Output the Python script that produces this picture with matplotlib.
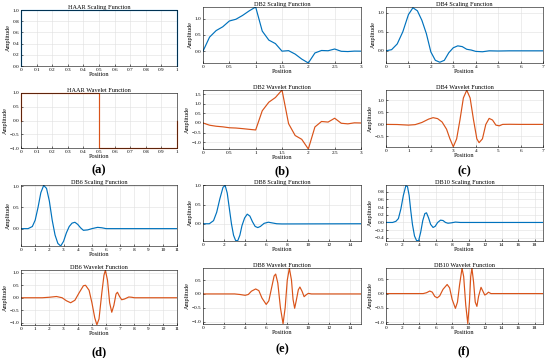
import matplotlib
matplotlib.use("Agg")
import matplotlib.pyplot as plt

plt.rcParams['font.family'] = ['Liberation Serif', 'DejaVu Serif']

blue = '#0072BD'
orange = '#D95319'

# ---- data ----
haar_phi_x = [0, 0, 1, 1]
haar_phi_y = [0, 1, 1, 0]
haar_psi_x = [0, 0, 0.5, 0.5, 1, 1]
haar_psi_y = [0, 1, 1, -1, -1, 0]

db2_phi_x = [0, 0.125, 0.25, 0.375, 0.5, 0.625, 0.75, 0.875, 1.0, 1.125, 1.25, 1.375, 1.5,
             1.625, 1.75, 1.875, 2.0, 2.125, 2.25, 2.375, 2.5, 2.625, 2.75, 2.875, 3.0]
db2_phi_y = [0, 0.435, 0.637, 0.754, 0.933, 0.987, 1.104, 1.244, 1.366, 0.621, 0.342, 0.234, 0.0,
             0.016, -0.091, -0.245, -0.366, -0.056, 0.021, 0.013, 0.067, -0.004, -0.012, 0.002, 0]
db2_psi_x = db2_phi_x
db2_psi_y = [0, -0.117, -0.171, -0.202, -0.25, -0.265, -0.296, -0.333, -0.366, 0.642, 1.092, 1.337, 1.732,
             -0.037, -0.658, -0.858, -1.366, -0.209, 0.079, 0.048, 0.25, -0.014, -0.046, 0.008, 0]

db4_phi_x = [0, 0.25, 0.5, 0.75, 1.0, 1.2, 1.4, 1.6, 1.8, 2.0, 2.2, 2.4, 2.6, 2.8, 3.0, 3.2,
             3.4, 3.6, 3.8, 4.0, 4.3, 4.6, 5.0, 5.5, 7.0]
db4_phi_y = [0, 0.03, 0.18, 0.5, 0.95, 1.13, 1.05, 0.8, 0.45, -0.03, -0.25, -0.3, -0.25, -0.05, 0.08, 0.13,
             0.11, 0.04, 0.02, -0.015, -0.025, 0.0, -0.005, 0, 0]
db4_psi_x = [0, 0.5, 1.0, 1.3, 1.6, 1.9, 2.1, 2.3, 2.5, 2.7, 2.85, 3.0, 3.15, 3.3, 3.45, 3.6, 3.75,
             3.9, 4.05, 4.15, 4.3, 4.45, 4.6, 4.75, 4.9, 5.05, 5.2, 5.5, 6.0, 7.0]
db4_psi_y = [0, -0.005, -0.03, -0.01, 0.08, 0.22, 0.28, 0.24, 0.1, -0.2, -0.6, -0.93, -0.6, 0.2, 1.1, 1.42, 1.1,
             0.2, -0.6, -0.76, -0.6, 0.0, 0.25, 0.18, -0.03, -0.06, 0.0, 0.005, 0, 0]

db6_phi_x = [0, 0.5, 0.8, 1.0, 1.2, 1.4, 1.6, 1.8, 2.0, 2.2, 2.4, 2.6, 2.8, 3.0, 3.2, 3.4, 3.6,
             3.8, 4.0, 4.2, 4.4, 4.7, 5.0, 5.4, 5.7, 6.0, 11]
db6_phi_y = [0, 0.0, 0.05, 0.2, 0.5, 0.85, 1.02, 0.95, 0.65, 0.2, -0.15, -0.35, -0.41, -0.3, -0.1, 0.05, 0.13,
             0.15, 0.1, 0.02, -0.04, -0.03, 0.0, 0.03, 0.02, 0.0, 0]
db6_psi_x = [0, 1.5, 2.0, 2.5, 2.9, 3.2, 3.5, 3.8, 4.1, 4.4, 4.55, 4.8, 5.0, 5.2, 5.35, 5.5, 5.7,
             5.85, 5.95, 6.1, 6.25, 6.4, 6.55, 6.7, 6.8, 6.95, 7.1, 7.3, 7.6, 7.8, 8.0, 11]
db6_psi_y = [0, 0.0, 0.02, 0.05, 0.0, -0.12, -0.2, -0.1, 0.2, 0.48, 0.5, 0.3, -0.2, -0.8, -1.08, -0.85, 0.2,
             0.9, 1.1, 0.7, -0.2, -0.58, -0.3, 0.15, 0.22, 0.05, -0.08, -0.05, 0.03, 0.02, 0, 0]

db8_phi_x = [0, 0.6, 1.0, 1.3, 1.6, 1.9, 2.1, 2.3, 2.5, 2.7, 2.9, 3.1, 3.3, 3.5, 3.7, 3.95, 4.2,
             4.45, 4.7, 4.95, 5.2, 5.45, 5.8, 6.2, 6.6, 7.0, 7.5, 15]
db8_phi_y = [0, 0.0, 0.08, 0.3, 0.65, 0.95, 1.0, 0.8, 0.4, 0.0, -0.3, -0.44, -0.44, -0.3, -0.05, 0.15, 0.25,
             0.2, 0.05, -0.07, -0.1, -0.07, 0.01, 0.04, 0.02, 0.0, -0.005, 0]
db8_psi_x = [0, 3.0, 3.5, 4.0, 4.3, 4.6, 5.0, 5.3, 5.6, 6.0, 6.25, 6.5, 6.75, 6.9, 7.1, 7.35, 7.6,
             7.8, 8.0, 8.2, 8.4, 8.55, 8.7, 8.85, 9.05, 9.2, 9.4, 9.6, 9.8, 10.0, 10.3, 15]
db8_psi_y = [0, 0, -0.02, -0.05, -0.02, 0.1, 0.18, 0.12, -0.15, -0.38, -0.25, 0.2, 0.65, 0.72, 0.4, -0.5, -1.08,
             -0.5, 0.5, 0.93, 0.5, -0.2, -0.52, -0.25, 0.15, 0.25, 0.1, -0.1, -0.03, 0.02, 0.0, 0]

db10_phi_x = [0, 0.8, 1.2, 1.5, 1.8, 2.1, 2.4, 2.6, 2.8, 3.0, 3.2, 3.45, 3.7, 3.95, 4.2, 4.45, 4.7,
              4.9, 5.15, 5.4, 5.7, 5.95, 6.25, 6.6, 6.9, 7.2, 7.5, 7.9, 8.4, 9.0, 19]
db10_phi_y = [0, 0, 0.03, 0.1, 0.35, 0.7, 0.95, 0.93, 0.7, 0.3, -0.05, -0.35, -0.47, -0.47, -0.25, 0.05, 0.23,
              0.25, 0.12, -0.05, -0.13, -0.1, 0.0, 0.06, 0.05, 0.0, -0.02, -0.01, 0.01, 0.0, 0]
db10_psi_x = [0, 4.5, 4.9, 5.3, 5.6, 5.9, 6.2, 6.5, 6.9, 7.4, 7.7, 8.0, 8.4, 8.65, 8.9, 9.2, 9.4,
              9.65, 9.9, 10.1, 10.25, 10.4, 10.6, 10.8, 11.0, 11.2, 11.5, 11.7, 11.95, 12.15, 12.4, 12.7, 19]
db10_psi_y = [0, 0, 0.03, 0.09, 0.05, -0.1, -0.15, -0.08, 0.15, 0.32, 0.2, -0.2, -0.52, -0.3, 0.3, 0.89, 0.6,
              -0.4, -1.06, -0.3, 0.6, 0.89, 0.4, -0.3, -0.45, -0.1, 0.22, 0.1, -0.05, -0.02, 0.05, 0.0, 0]

W, H = 550, 358
fig = plt.figure(figsize=(5.5, 3.58), dpi=100)


def panel(px, py, x, y, color, title, xlim, ylim, xticks, yticks, xticklabels=None):
    # px = (left, right), py = (top, bottom) in pixels
    ax = fig.add_axes([px[0] / W, 1 - py[1] / H, (px[1] - px[0]) / W, (py[1] - py[0]) / H])
    ax.plot(x, y, color=color, lw=0.85, clip_on=False if title.startswith('HAAR') else True)
    ax.set_xlim(xlim)
    ax.set_ylim(ylim)
    ax.set_xticks(xticks)
    if xticklabels is not None:
        ax.set_xticklabels(xticklabels)
    ax.set_yticks(yticks)
    ax.grid(True, color='#e0e0e0', lw=0.4)
    ax.set_axisbelow(True)
    ax.tick_params(direction='in', length=1.5, width=0.4, labelsize=3.8, pad=1.2)
    for s in ax.spines.values():
        s.set_linewidth(0.4)
    ax.set_title(title, fontsize=4.5, pad=1.0)
    ax.set_xlabel('Position', fontsize=4.5, labelpad=0.5)
    ax.set_ylabel('Amplitude', fontsize=4.5, labelpad=1.0)
    return ax


def fmt(v):
    s = ('%g' % v)
    return s


colA, colB, colC = (21, 177), (203, 361), (386, 543)

# (a) Haar
xt = [i / 10 for i in range(11)]
panel(colA, (10, 66), haar_phi_x, haar_phi_y, blue, 'HAAR Scaling Function', (0, 1), (0, 1),
      xt, [0, 0.2, 0.4, 0.6, 0.8, 1], [fmt(v) for v in xt])
panel(colA, (93, 148), haar_psi_x, haar_psi_y, orange, 'HAAR Wavelet Function', (0, 1), (-1, 1),
      xt, [-1, -0.5, 0, 0.5, 1], [fmt(v) for v in xt])

# (b) DB2
xt2 = [0, 0.5, 1, 1.5, 2, 2.5, 3]
panel(colB, (7, 63), db2_phi_x, db2_phi_y, blue, 'DB2 Scaling Function', (0, 3), (-0.366, 1.366),
      xt2, [0, 0.5, 1], [fmt(v) for v in xt2])
panel(colB, (90, 149), db2_psi_x, db2_psi_y, orange, 'DB2 Wavelet Function', (0, 3), (-1.366, 1.732),
      xt2, [-1, -0.5, 0, 0.5, 1, 1.5], [fmt(v) for v in xt2])

# (c) DB4
panel(colC, (7, 63), db4_phi_x, db4_phi_y, blue, 'DB4 Scaling Function', (0, 7), (-0.32, 1.15),
      range(8), [0, 0.5, 1])
panel(colC, (90, 147), db4_psi_x, db4_psi_y, orange, 'DB4 Wavelet Function', (0, 7), (-0.94, 1.43),
      range(8), [-0.5, 0, 0.5, 1])

# (d) DB6
panel(colA, (185, 246), db6_phi_x, db6_phi_y, blue, 'DB6 Scaling Function', (0, 11), (-0.41, 1.03),
      range(12), [0, 0.5, 1])
panel(colA, (270, 325), db6_psi_x, db6_psi_y, orange, 'DB6 Wavelet Function', (0, 11), (-1.09, 1.11),
      range(12), [-1, -0.5, 0, 0.5, 1])

# (e) DB8
panel(colB, (185, 241), db8_phi_x, db8_phi_y, blue, 'DB8 Scaling Function', (0, 15), (-0.45, 1.01),
      range(0, 15, 2), [0, 0.5, 1])
panel(colB, (268, 324), db8_psi_x, db8_psi_y, orange, 'DB8 Wavelet Function', (0, 15), (-1.09, 0.94),
      range(0, 15, 2), [-1, -0.5, 0, 0.5])

# (f) DB10
panel(colC, (185, 241), db10_phi_x, db10_phi_y, blue, 'DB10 Scaling Function', (0, 19), (-0.48, 0.97),
      range(0, 19, 2), [-0.4, -0.2, 0, 0.2, 0.4, 0.6, 0.8])
panel(colC, (268, 324), db10_psi_x, db10_psi_y, orange, 'DB10 Wavelet Function', (0, 19), (-1.07, 0.9),
      range(0, 19, 2), [-1, -0.5, 0, 0.5])

for lab, cx, cy in [('(a)', 99, 170), ('(b)', 282, 171), ('(c)', 464, 171),
                    ('(d)', 99, 352), ('(e)', 282, 349), ('(f)', 464, 351)]:
    fig.text(cx / W, 1 - cy / H, lab, ha='center', va='center', fontsize=9, fontweight='bold')

fig.savefig('out.png', dpi=100)
